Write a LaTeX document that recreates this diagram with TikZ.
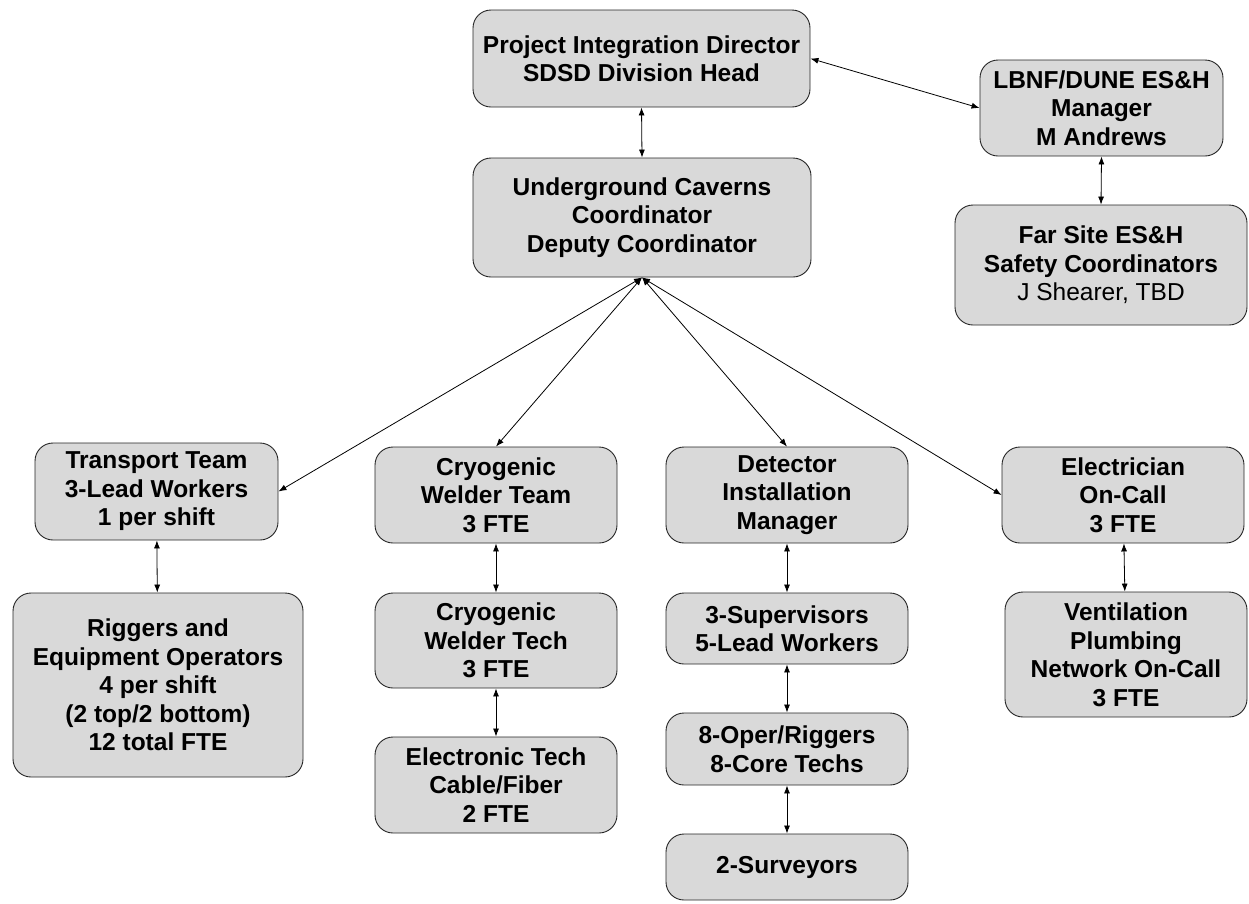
\documentclass[tikz,border=0pt]{standalone}
\usepackage{fontspec}
\setmainfont{Liberation Sans}
\usetikzlibrary{arrows.meta}
\begin{document}
\begin{tikzpicture}[x=1pt,y=-1pt,
  box/.style={draw=black!85,line width=0.9pt,fill=black!15,rounded corners=18pt,
    align=center,inner sep=0pt,font=\fontsize{24.5}{28.5}\selectfont\bfseries},
  link/.style={line width=0.8pt,{Latex[length=8pt,width=6pt]}-{Latex[length=8pt,width=6pt]}}]
\useasboundingbox (0,0) rectangle (1249,903);
\node[box,minimum width=337pt,minimum height=97pt] (pid) at (641.5,58.5) {Project Integration Director\\SDSD Division Head};
\node[box,minimum width=338pt,minimum height=119pt] (uc) at (642,217.5) {Underground Caverns\\Coordinator\\Deputy Coordinator};
\node[box,minimum width=243pt,minimum height=96pt] (lbnf) at (1101.5,108) {LBNF/DUNE ES\&H\\Manager\\M Andrews};
\node[box,minimum width=292pt,minimum height=120pt] (far) at (1101,265) {Far Site ES\&H\\Safety Coordinators\\\mdseries J Shearer, TBD};
\node[box,minimum width=243pt,minimum height=97pt] (trans) at (156.5,491.5) {Transport Team\\3-Lead Workers\\1 per shift};
\node[box,minimum width=290pt,minimum height=184pt] (rig) at (158,685) {Riggers and\\Equipment Operators\\4 per shift\\(2 top/2 bottom)\\12 total FTE};
\node[box,minimum width=242pt,minimum height=96pt] (cwt) at (496,495) {Cryogenic\\Welder Team\\3 FTE};
\node[box,minimum width=242pt,minimum height=95pt] (cwtech) at (496,640.5) {Cryogenic\\Welder Tech\\3 FTE};
\node[box,minimum width=242pt,minimum height=96pt] (etech) at (496,785) {Electronic Tech\\Cable/Fiber\\2 FTE};
\node[box,minimum width=242pt,minimum height=96pt] (det) at (787,495) {Detector\\Installation\\Manager};
\node[box,minimum width=242pt,minimum height=71pt] (sup) at (787,628.5) {3-Supervisors\\5-Lead Workers};
\node[box,minimum width=242pt,minimum height=72pt] (oper) at (787,749) {8-Oper/Riggers\\8-Core Techs};
\node[box,minimum width=242pt,minimum height=66pt] (surv) at (787,867) {2-Surveyors};
\node[box,minimum width=242pt,minimum height=96pt] (elec) at (1123,495) {Electrician\\On-Call\\3 FTE};
\node[box,minimum width=242pt,minimum height=125pt] (vent) at (1126,654.5) {Ventilation\\Plumbing\\Network On-Call\\3 FTE};
\draw[link] (pid.east) -- (lbnf.west);
\draw[link] (pid.south) -- (uc.north);
\draw[link] (lbnf.south) -- (far.north);
\draw[link] (uc.south) -- (trans.east);
\draw[link] (uc.south) -- (cwt.north);
\draw[link] (uc.south) -- (det.north);
\draw[link] (uc.south) -- (elec.west);
\draw[link] (trans) -- (rig);
\draw[link] (cwt) -- (cwtech);
\draw[link] (cwtech) -- (etech);
\draw[link] (det) -- (sup);
\draw[link] (sup) -- (oper);
\draw[link] (oper) -- (surv);
\draw[link] (elec) -- (vent);
\end{tikzpicture}
\end{document}
